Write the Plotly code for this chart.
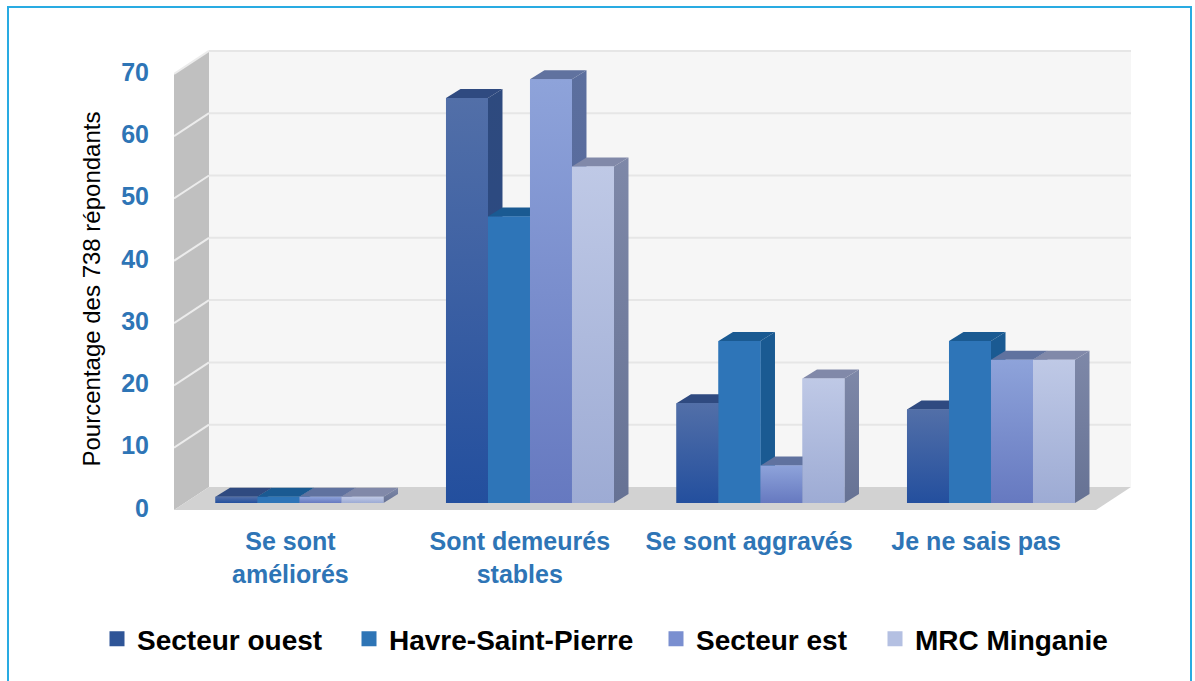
import plotly.graph_objects as go

categories = ["Se sont<br>améliorés", "Sont demeurés<br>stables", "Se sont aggravés", "Je ne sais pas"]
series_names = ["Secteur ouest", "Havre-Saint-Pierre", "Secteur est", "MRC Minganie"]
secteur_ouest = [1, 65, 16, 15]
havre_saint_pierre = [1, 46, 26, 26]
secteur_est = [1, 68, 6, 23]
mrc_minganie = [1, 54, 20, 23]
y_ticks = [0, 10, 20, 30, 40, 50, 60, 70]

series_values = [secteur_ouest, havre_saint_pierre, secteur_est, mrc_minganie]
front_top = ["#526fa8", "#2e75b8", "#8ea3da", "#bfc9e6"]
front_bot = ["#234f9e", "#2e75b8", "#6679c0", "#9dabd4"]
side_top = ["#2e4a7e", "#1a5a92", "#5c6f9e", "#7e88a8"]
side_bot = ["#2a4a86", "#1a5a92", "#4f639c", "#667294"]
roof = ["#2f4a80", "#1a5a92", "#60729f", "#8189a9"]
swatch = ["#2f5597", "#2e75b6", "#7a8fd0", "#b4c0e2"]
legend_text_px = [137, 389, 696, 915]

# pixel geometry of the oblique projection
L, R, T, B = 174, 1131, 50, 510
W_PLOT, H_PLOT = R - L, B - T
PX_PER_CAT = 230.5
PX_PER_VAL = 6.23
WALL_DX = 35 / PX_PER_CAT
WALL_DY = 23 / PX_PER_VAL
BAR_DX = 14.5 / PX_PER_CAT
BAR_DY = 9 / PX_PER_VAL
BAR_W = 42 / PX_PER_CAT
BAR_LIFT = 7 / PX_PER_VAL
GROUP_OFF = 0.18

fig = go.Figure()

# real bars (front faces and hover)
for s, vals in enumerate(series_values):
    fig.add_trace(go.Bar(
        x=[i + GROUP_OFF + BAR_W * (s + 0.5) for i in range(len(categories))],
        y=vals, base=BAR_LIFT, width=BAR_W, name=series_names[s],
        marker=dict(color=swatch[s], line_width=0), showlegend=False,
    ))
# legend keys, one positioned legend per series
legend_ids = ["legend", "legend2", "legend3", "legend4"]
for s, name in enumerate(series_names):
    fig.add_trace(go.Bar(x=[None], y=[None], name=name, legend=legend_ids[s],
                         marker=dict(color=swatch[s], line=dict(color=swatch[s], width=3))))

# oblique side, roof and shaded front, painted left to right
def poly(xs, ys, color=None, grad=None):
    kw = dict(x=xs, y=ys, mode="lines", fill="toself", line=dict(width=0),
              showlegend=False, hoverinfo="skip")
    if grad:
        kw["fillgradient"] = dict(type="vertical",
                                  colorscale=[[0, grad[1]], [1, grad[0]]])
        kw["fillcolor"] = grad[0]
    else:
        kw["fillcolor"] = color
    fig.add_trace(go.Scatter(**kw))

for i in range(len(categories)):
    for s, vals in enumerate(series_values):
        x0 = i + GROUP_OFF + BAR_W * s
        x1 = x0 + BAR_W
        y0 = BAR_LIFT
        y1 = BAR_LIFT + vals[i]
        poly([x1, x1 + BAR_DX, x1 + BAR_DX, x1, x1],
             [y0, y0 + BAR_DY, y1 + BAR_DY, y1, y0],
             grad=(side_top[s], side_bot[s]))
        poly([x0, x1, x1 + BAR_DX, x0 + BAR_DX, x0],
             [y1, y1, y1 + BAR_DY, y1 + BAR_DY, y1], color=roof[s])
        poly([x0, x1, x1, x0, x0], [y0, y0, y1, y1, y0],
             grad=(front_top[s], front_bot[s]))

n = len(categories)
shapes = []
def path_shape(pts, color):
    d = "M" + " L".join(f"{a},{b}" for a, b in pts) + " Z"
    shapes.append(dict(type="path", path=d, xref="x", yref="y",
                       fillcolor=color, line_width=0, layer="below"))

# back wall, left wall, floor
path_shape([(WALL_DX, WALL_DY), (n + WALL_DX, WALL_DY),
            (n + WALL_DX, 70 + WALL_DY), (WALL_DX, 70 + WALL_DY)], "#f6f6f6")
path_shape([(0, 0), (WALL_DX, WALL_DY), (WALL_DX, 70 + WALL_DY), (0, 70)], "#c0c0c0")
path_shape([(0, 0), (n, 0), (n + WALL_DX, WALL_DY), (WALL_DX, WALL_DY)], "#d2d2d2")
for v in y_ticks[1:]:
    shapes.append(dict(type="line", xref="x", yref="y", x0=WALL_DX, x1=n + WALL_DX,
                       y0=v + WALL_DY, y1=v + WALL_DY,
                       line=dict(color="#e6e6e6", width=2), layer="below"))
    shapes.append(dict(type="line", xref="x", yref="y", x0=0, x1=WALL_DX,
                       y0=v, y1=v + WALL_DY,
                       line=dict(color="#ececec", width=2), layer="below"))

# outer light-blue frame
shapes.append(dict(type="rect", xref="paper", yref="paper",
                   x0=(8 - L) / W_PLOT, x1=(1191 - L) / W_PLOT,
                   y0=(B - 700) / H_PLOT, y1=(B - 7) / H_PLOT,
                   line=dict(color="#29abe2", width=2), fillcolor="rgba(0,0,0,0)",
                   layer="below"))

legend_layout = {}
for s, key in enumerate(legend_ids):
    legend_layout[key] = dict(
        orientation="h", x=(legend_text_px[s] - 40 - L) / W_PLOT, xanchor="left",
        y=(B - 639) / H_PLOT, yanchor="middle",
        font=dict(size=28, color="black", family="Liberation Sans", weight="bold"),
        bgcolor="rgba(0,0,0,0)", itemwidth=30)

fig.update_layout(
    width=1195, height=681,
    paper_bgcolor="white", plot_bgcolor="rgba(0,0,0,0)",
    margin=dict(l=L, r=1195 - R, t=T, b=681 - B, autoexpand=False),
    barmode="overlay", shapes=shapes,
    font=dict(family="Liberation Sans"),
    showlegend=True,
    xaxis=dict(range=[0, W_PLOT / PX_PER_CAT], showgrid=False, zeroline=False, showline=False,
               tickmode="array", tickvals=[0.505, 1.5, 2.495, 3.48], ticktext=categories,
               ticks="", ticklabelstandoff=14,
               tickfont=dict(size=25, color="#2e75b6", family="Liberation Sans", weight="bold")),
    yaxis=dict(range=[0, H_PLOT / PX_PER_VAL], showgrid=False, zeroline=False, showline=False,
               tickmode="array", tickvals=y_ticks, ticks="", ticklabelstandoff=24,
               ticklabelshift=-2,
               tickfont=dict(size=25, color="#2e75b6", family="Liberation Sans", weight="bold")),
    annotations=[dict(text="Pourcentage des 738 répondants", textangle=-90, showarrow=False,
                      xref="paper", yref="paper",
                      x=(91 - L) / W_PLOT, y=(B - 289.5) / H_PLOT,
                      xanchor="center", yanchor="middle",
                      font=dict(size=24, color="black", family="Liberation Sans"))],
    **legend_layout,
)

fig.write_html("out.html", config=dict(displayModeBar=False),
               post_script="document.body.style.margin='0';")
